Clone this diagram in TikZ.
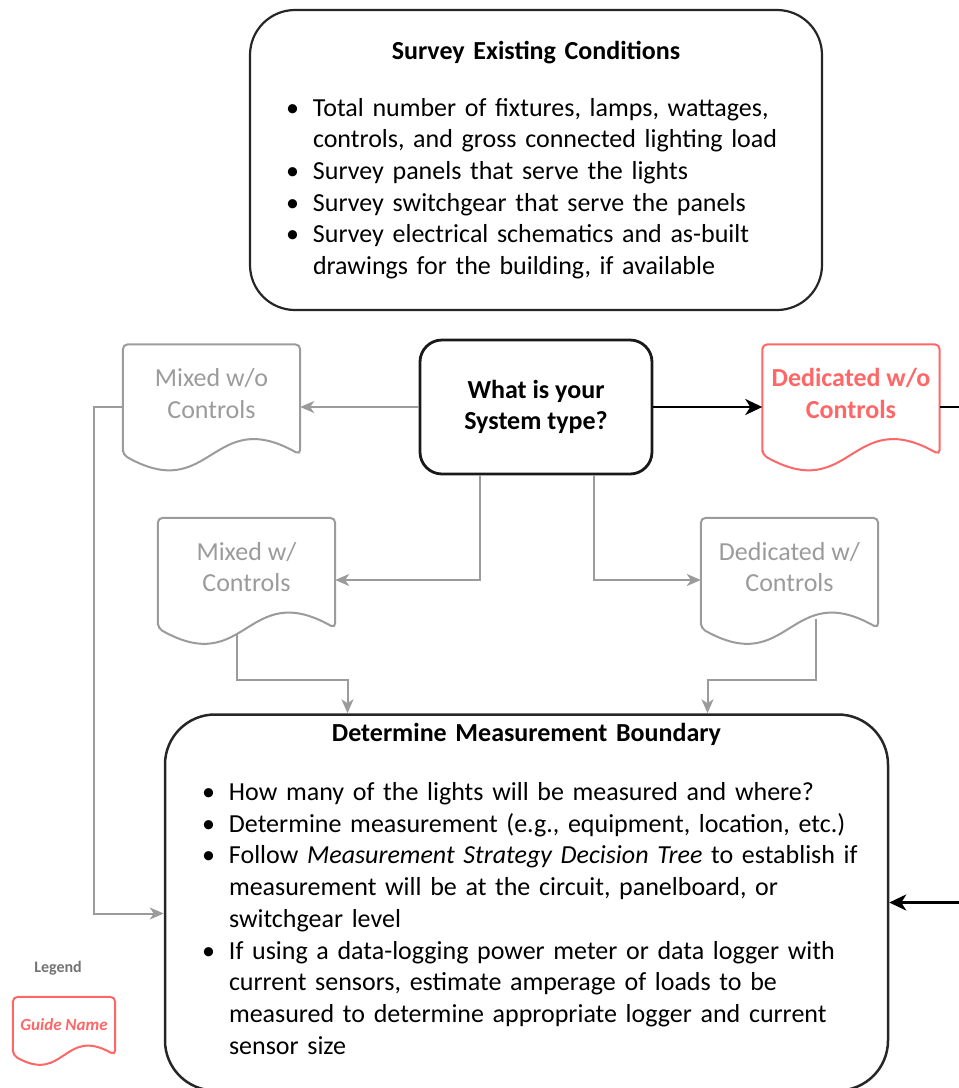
\documentclass[tikz,border=0pt]{standalone}
\usepackage{fontspec}
\setmainfont{Carlito}
\usetikzlibrary{arrows.meta}

\definecolor{guidegray}{HTML}{9B9B9B}
\definecolor{guidered}{HTML}{FF6666}

\newcommand{\bul}[2]{\par\noindent\hangindent=#1\hangafter=1\hspace*{\dimexpr#1-27pt\relax}\makebox[27pt][l]{\textbullet}#2}
\newcommand{\docoutline}[4]{\draw[#1, rounded corners = 5] ([yshift = -#3]#2.south west) -- (#2.north west) -- (#2.north east) -- ([yshift = -#3]#2.south east)
  .. controls ([yshift = {#4-#3}]#2.south) and ([yshift = {-#4-#3}]#2.south) .. ([yshift = -#3]#2.south west) -- cycle;}

\begin{document}
\begin{tikzpicture}[x = 1pt, y = -1pt,
                    every node/.style = {font = \fontsize{26}{31.7}\selectfont},
                    bigbox/.style = {draw = black!85, line width = 2.2pt, align = left, inner sep = 0pt},
                    askbox/.style = {draw = black!90, rounded corners = 22, line width = 2.8pt, align = center,
                                     font = \fontsize{26}{31.7}\selectfont\bfseries},
                    graydoc/.style = {text = guidegray, minimum width = 177, minimum height = 98, inner sep = 0pt, align = center},
                    reddoc/.style = {graydoc, text = guidered, font = \fontsize{26}{31.7}\selectfont\bfseries},
                    grayline/.style = {draw = guidegray, line width = 2pt, -{Stealth[length = 14pt, width = 12pt, inset = 4pt]}},
                    blackline/.style = {draw = black, line width = 2.8pt, -{Stealth[length = 17pt, width = 16pt, inset = 5pt]}}]
  \useasboundingbox (0, 0) rectangle (959, 1088);
  \clip (0, 0) rectangle (959, 1088);

  \node [bigbox, rounded corners = 45, minimum width = 572, minimum height = 300, text width = 530] (survey) at (536, 160)
    {{\centering\bfseries Survey Existing Conditions\par}\vspace{25pt}
     \bul{42pt}{Total number of fixtures, lamps, wattages,\newline controls, and gross connected lighting load}
     \bul{42pt}{Survey panels that serve the lights}
     \bul{42pt}{Survey switchgear that serve the panels}
     \bul{42pt}{Survey electrical schematics and as-built\newline drawings for the building, if available}\par};

  \node [askbox, minimum width = 232, minimum height = 134] (question) at (536, 407) {What is your\\System type?};

  \node [graydoc] (mixwo) at (211.5, 393.5) {Mixed w/o\\Controls};
  \node [reddoc] (dedwo) at (851, 393.5) {Dedicated w/o\\Controls};
  \node [graydoc] (mixw) at (246.5, 567) {Mixed w/\\Controls};
  \node [graydoc] (dedw) at (789.5, 567) {Dedicated w/\\Controls};
  \docoutline{guidegray, line width = 2pt}{mixwo}{12}{50}
  \docoutline{guidered, line width = 2pt}{dedwo}{12}{50}
  \docoutline{guidegray, line width = 2pt}{mixw}{12}{50}
  \docoutline{guidegray, line width = 2pt}{dedw}{12}{50}

  \node [bigbox, line width = 2.5pt, rounded corners = 50, minimum width = 723, minimum height = 376, text width = 700] (mbound) at (526.5, 902.5)
    {{\centering\bfseries Determine Measurement Boundary\par}\vspace{27pt}
     \bul{52.5pt}{How many of the lights will be measured and where?}
     \bul{52.5pt}{Determine measurement (e.g., equipment, location, etc.)}
     \bul{52.5pt}{Follow \textit{Measurement Strategy Decision Tree} to establish if\newline measurement will be at the circuit, panelboard, or\newline switchgear level}
     \bul{52.5pt}{If using a data-logging power meter or data logger with\newline current sensors, estimate amperage of loads to be\newline measured to determine appropriate logger and current\newline sensor size}\par\kern27pt};

  \node [font = \fontsize{16}{19}\selectfont\bfseries, text = black!55] (legend) at (58, 968) {Legend};
  \node [reddoc, minimum width = 102, minimum height = 56, font = \fontsize{17}{20}\selectfont\bfseries\itshape] (guide) at (64, 1025) {Guide Name};
  \docoutline{guidered, line width = 2pt}{guide}{2}{29}

  \draw [grayline] (question.west) -- (question.west -| mixwo.east);
  \draw [blackline] (question.east) -- (question.east -| dedwo.west);
  \draw [grayline] ([xshift = -56pt]question.south) |- ([yshift = -13pt]mixw.east);
  \draw [grayline] ([xshift = 58pt]question.south) |- ([yshift = -13pt]dedw.west);
  \draw [grayline] (question.west -| mixwo.west) -- ++(-29, 0) |- ([yshift = -11pt]mbound.west);
  \draw [grayline] ([xshift = -10pt, yshift = -17pt]mixw.south) -- ++(0, 47) -| ([xshift = -179pt]mbound.north);
  \draw [grayline] ([xshift = 26pt, yshift = -3pt]dedw.south) -- ++(0, 61) -| ([xshift = 181pt]mbound.north);
  \draw [blackline] (question.east -| dedwo.east) -- ++(40, 0) |- (mbound.east);
\end{tikzpicture}
\end{document}
